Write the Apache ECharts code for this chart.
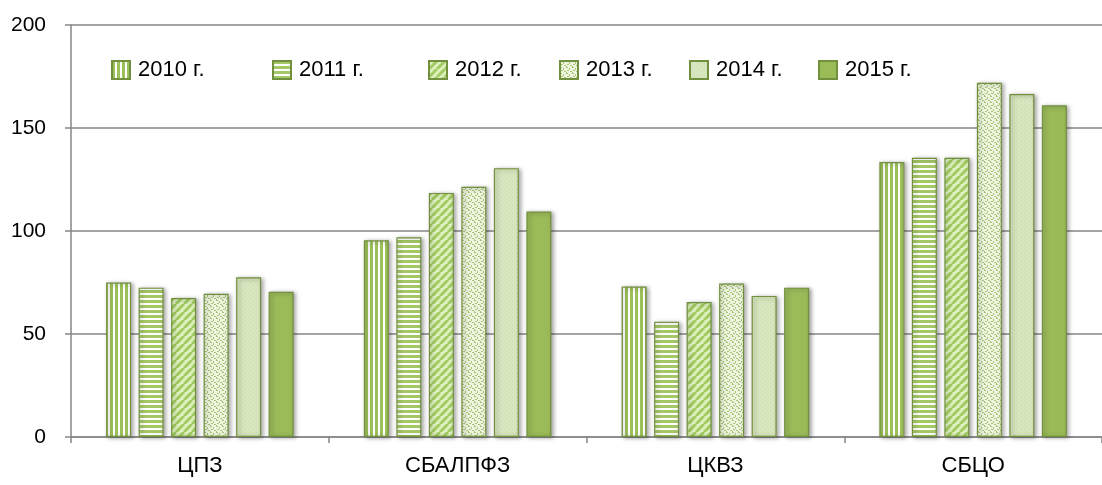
<!DOCTYPE html>
<html>
<head>
<meta charset="utf-8">
<script src="https://cdn.jsdelivr.net/npm/echarts@6/dist/echarts.min.js"></script>
<style>
  html, body { margin: 0; padding: 0; background: #fff; }
  #chart { width: 1102px; height: 485px; }
</style>
</head>
<body>
<div id="chart"></div>
<script>
var categories = ['ЦПЗ', 'СБАЛПФЗ', 'ЦКВЗ', 'СБЦО'];
var years = ['2010 г.', '2011 г.', '2012 г.', '2013 г.', '2014 г.', '2015 г.'];
var v2010 = [75, 95.5, 73, 133.5];
var v2011 = [72.5, 97, 56, 135.5];
var v2012 = [67.5, 118.5, 65.5, 135.5];
var v2013 = [69.5, 121.5, 74.5, 172];
var v2014 = [77.5, 130.5, 68.5, 166.5];
var v2015 = [70.5, 109.5, 72.5, 161];
var yTicks = [0, 50, 100, 150, 200];

var FONT = "'Liberation Sans Narrow', 'Arial Narrow', 'Liberation Sans', Arial, sans-serif";

function makeCanvas(w, h, draw) {
  var c = document.createElement('canvas');
  c.width = w; c.height = h;
  draw(c.getContext('2d'), w, h);
  return c;
}

// fill patterns, one per year
var patterns = [
  makeCanvas(5, 4, function (g, w, h) {           // vertical stripes
    g.fillStyle = '#ffffff'; g.fillRect(0, 0, w, h);
    g.fillStyle = '#9dc15a'; g.fillRect(0, 0, 3, h);
  }),
  makeCanvas(4, 5, function (g, w, h) {           // horizontal stripes
    g.fillStyle = '#ffffff'; g.fillRect(0, 0, w, h);
    g.fillStyle = '#a5c866'; g.fillRect(0, 0, w, 3);
  }),
  makeCanvas(8, 8, function (g, w, h) {           // diagonal stripes
    g.fillStyle = '#def0c0'; g.fillRect(0, 0, w, h);
    g.strokeStyle = '#a2cc60'; g.lineWidth = 3;
    for (var k = -2; k <= 2; k++) {
      g.beginPath(); g.moveTo(k * 8, h); g.lineTo(k * 8 + w, 0); g.stroke();
    }
  }),
  makeCanvas(6, 6, function (g, w, h) {           // speckles
    g.fillStyle = '#eef5de'; g.fillRect(0, 0, w, h);
    g.fillStyle = '#a9c47a';
    g.fillRect(0, 0, 2, 1); g.fillRect(3, 1, 1, 2); g.fillRect(1, 3, 2, 1);
    g.fillRect(4, 4, 2, 1); g.fillRect(0, 5, 1, 1);
  }),
  makeCanvas(4, 4, function (g, w, h) {           // fine light texture
    g.fillStyle = '#d9e7c0'; g.fillRect(0, 0, w, h);
    g.fillStyle = '#c8d9a8';
    g.fillRect(0, 0, 1, 1); g.fillRect(2, 2, 1, 1);
  }),
  null
];

var values = [v2010, v2011, v2012, v2013, v2014, v2015];
var legendLeft = [106, 267, 423, 554, 684, 813];

var series = years.map(function (y, i) {
  var color = patterns[i] ? { image: patterns[i], repeat: 'repeat' } : '#9bbb59';
  return {
    name: y,
    type: 'bar',
    data: values[i],
    barWidth: 25,
    barGap: '30%',
    itemStyle: {
      color: color,
      borderColor: '#71903d',
      borderWidth: 1.2,
      shadowColor: 'rgba(0,0,0,0.35)',
      shadowBlur: 4,
      shadowOffsetX: 2,
      shadowOffsetY: 1
    }
  };
});

var legends = years.map(function (y, i) {
  return {
    data: [y],
    left: legendLeft[i],
    top: 54,
    icon: 'rect',
    itemWidth: 18,
    itemHeight: 18,
    textStyle: { fontFamily: FONT, fontSize: 22, color: '#000', padding: [0, 0, 0, 3] },
    itemStyle: { shadowBlur: 0, shadowOffsetX: 0, shadowOffsetY: 0 }
  };
});

var chart = echarts.init(document.getElementById('chart'));
var option = {
  animation: false,
  backgroundColor: '#ffffff',
  legend: legends,
  grid: { left: 71, top: 25, bottom: 48, width: 1036, containLabel: false },
  xAxis: {
    type: 'category',
    data: categories,
    axisLine: { lineStyle: { color: '#868686', width: 1.5 } },
    axisTick: { show: true, length: 6, lineStyle: { color: '#868686', width: 1.5 } },
    axisLabel: { fontFamily: FONT, fontSize: 22, color: '#000', margin: 18 }
  },
  yAxis: {
    type: 'value',
    min: yTicks[0],
    max: yTicks[yTicks.length - 1],
    interval: 50,
    axisLine: { show: true, lineStyle: { color: '#868686', width: 1.5 } },
    axisTick: { show: true, length: 6, lineStyle: { color: '#868686', width: 1.5 } },
    splitLine: { lineStyle: { color: '#868686', width: 1.5 } },
    axisLabel: { fontFamily: FONT, fontSize: 21, color: '#000', margin: 25 }
  },
  series: series
};
chart.setOption(option);
</script>
</body>
</html>
